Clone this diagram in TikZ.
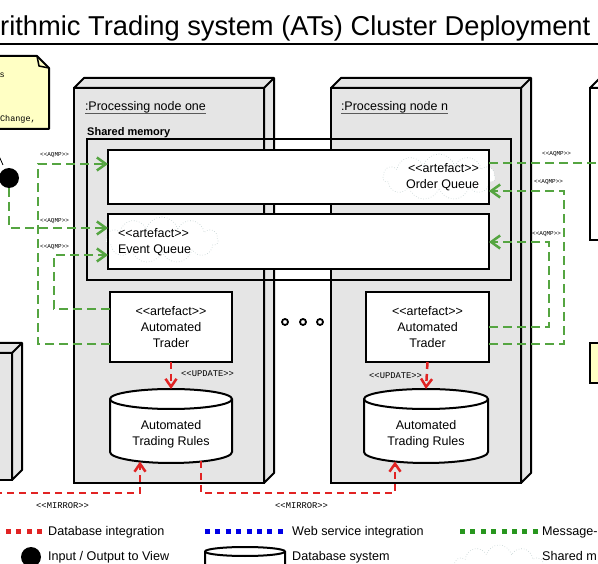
\documentclass[tikz,border=0pt]{standalone}
\usepackage{fontspec}
\setmainfont{Liberation Sans}[Ligatures=TeXOff]
\newfontfamily\monofnt{Liberation Mono}[Ligatures=TeXOff]
\usetikzlibrary{arrows.meta,calc,shapes.symbols}

\definecolor{nodegray}{RGB}{229,229,229}
\definecolor{aqc}{RGB}{85,165,65}
\definecolor{dbred}{RGB}{225,35,35}
\definecolor{legblue}{RGB}{0,0,230}
\definecolor{leggreen}{RGB}{40,150,30}
\definecolor{notey}{RGB}{255,255,196}
\definecolor{cloudc}{RGB}{190,206,206}
\definecolor{ulc}{RGB}{90,90,90}

\tikzset{
 box/.style={draw=black, line width=2pt, fill=white, inner sep=0pt, outer sep=0pt},
 nodeface/.style={draw=black, line width=2pt, fill=nodegray, inner sep=0pt, outer sep=0pt, anchor=north west},
 extr/.style={draw=black, line width=2pt, fill=nodegray, line join=round},
 txt/.style={font=\fontsize{12.5}{16}\selectfont, inner sep=0pt, outer sep=0pt, align=center},
 aqmp/.style={aqc, line width=2.5pt, dash pattern=on 9pt off 5pt, -{Straight Barb[length=9pt,width=13pt]}},
 aqmpline/.style={aqc, line width=2.5pt, dash pattern=on 9pt off 5pt},
 dblink/.style={dbred, line width=2.5pt, dash pattern=on 7pt off 5pt, -{Straight Barb[length=8pt,width=11pt]}},
 tinylbl/.style={font=\monofnt\fontsize{6}{6}\selectfont, inner sep=0pt, anchor=base west},
 smalllbl/.style={font=\monofnt\fontsize{8.8}{9}\selectfont, inner sep=0pt, anchor=base west},
 cloudbg/.style={cloud, cloud puffs=11, cloud ignores aspect, draw=cloudc, dotted, line width=0.6pt, fill=white, inner sep=0pt, outer sep=0pt},
 legtxt/.style={font=\fontsize{12.6}{14}\selectfont, inner sep=0pt, anchor=base west},
 legline/.style={line width=5pt, dash pattern=on 5pt off 5.4pt},
 ring/.style={circle, draw=black, line width=1.8pt, fill=white, minimum size=6pt, inner sep=0pt},
 blackdot/.style={circle, fill=black, minimum size=20pt, inner sep=0pt, outer sep=0pt},
 notetxt/.style={font=\monofnt\fontsize{8.5}{9}\selectfont, inner sep=0pt, anchor=base east},
}

\begin{document}
\begin{tikzpicture}[x=1pt,y=1pt]
\useasboundingbox (0,0) rectangle (598,-564);
\clip (0,0) rectangle (598,-564);

% title
\node[anchor=base west, font=\fontsize{27.3}{30}\selectfont, inner sep=0pt] (title) at (0,-36) {rithmic Trading system (ATs) Cluster Deployment};
\draw[line width=2pt] (-2,-44) -- (600,-44);

% top-left note
\filldraw[draw=black, line width=2pt, fill=notey, line join=round] (-10,-56) -- (37,-56) -- (49,-68) -- (49,-129) -- (-10,-129) -- cycle;
\draw[line width=1.5pt, line join=round] (37,-56) -- (39,-66) -- (49,-68);
\node[notetxt] (ns) at (5,-78) {s};
\node[notetxt] (nc) at (36,-122) {Change,};

% left bottom 3D box
\node[nodeface, minimum width=40, minimum height=127] (lbox) at (-28,-353) {};
\filldraw[extr] (lbox.north west) -- ++(10,10) -- ($(lbox.north east)+(10,10)$) -- ($(lbox.south east)+(10,10)$) -- (lbox.south east) -- (lbox.north east) -- cycle;
\draw[line width=2pt] (lbox.north east) -- ++(10,10);

% right top box
\node[nodeface, fill=white, minimum width=60, minimum height=152] (rbox) at (590,-88) {};
\filldraw[extr, fill=white] (rbox.north west) -- ++(10,10) -- ($(rbox.north east)+(10,10)$) -- (rbox.north east) -- cycle;

% right note
\node[draw=black, line width=2pt, fill=notey, minimum width=40, minimum height=40, anchor=north west, inner sep=0pt, outer sep=0pt] (rnote) at (590,-343) {};

% processing node one
\node[nodeface, minimum width=190, minimum height=395] (pn1) at (74,-88) {};
\filldraw[extr] (pn1.north west) -- ++(10,10) -- ($(pn1.north east)+(10,10)$) -- ($(pn1.south east)+(10,10)$) -- (pn1.south east) -- (pn1.north east) -- cycle;
\draw[line width=2pt] (pn1.north east) -- ++(10,10);

% processing node n
\node[nodeface, minimum width=190, minimum height=395] (pnn) at (331,-88) {};
\filldraw[extr] (pnn.north west) -- ++(10,10) -- ($(pnn.north east)+(10,10)$) -- ($(pnn.south east)+(10,10)$) -- (pnn.south east) -- (pnn.north east) -- cycle;
\draw[line width=2pt] (pnn.north east) -- ++(10,10);

% node labels
\node[txt, anchor=base west] (pl1) at (85,-111) {:Processing node one};
\draw[ulc, line width=1.3pt] ($(pl1.base west)+(0,-2.5)$) -- ($(pl1.base east)+(0,-2.5)$);
\node[txt, anchor=base west] (pln) at (341,-111) {:Processing node n};
\draw[ulc, line width=1.3pt] ($(pln.base west)+(0,-2.5)$) -- ($(pln.base east)+(0,-2.5)$);

% shared memory
\node[anchor=base west, font=\bfseries\fontsize{11}{12}\selectfont, inner sep=0pt] (sml) at (87,-136) {Shared memory};
\node[draw=black, line width=2pt, minimum width=424, minimum height=141, anchor=north west, inner sep=0pt, outer sep=0pt] (shm) at (87,-139) {};

% queues
\node[box, minimum width=381, minimum height=54, anchor=north west] (oq) at (108,-150) {};
\node[box, minimum width=381, minimum height=55, anchor=north west] (eq) at (108,-214) {};
\node[cloudbg, minimum width=112, minimum height=46] (oqc) at (439,-177) {};
\node[txt, align=right, anchor=east] (oqt) at (479,-177) {<<artefact>>\\Order Queue};
\node[cloudbg, minimum width=112, minimum height=46] (eqc) at (162,-240) {};
\node[txt, align=left, anchor=west] (eqt) at (118,-242.5) {<<artefact>>\\Event Queue};
\draw[line width=2pt] (oq.north west) rectangle (oq.south east);
\draw[line width=2pt] (eq.north west) rectangle (eq.south east);

% traders
\node[box, txt, minimum width=122, minimum height=70] (t1) at (171,-327) {<<artefact>>\\Automated\\Trader};
\node[box, txt, minimum width=123, minimum height=70] (tn) at (427.5,-327) {<<artefact>>\\Automated\\Trader};

% cylinders
\node[minimum width=122, minimum height=74, inner sep=0pt, outer sep=0pt] (r1) at (171,-426) {};
\filldraw[line width=2pt, fill=white] ($(r1.north west)+(0,-10)$) -- ($(r1.south west)+(0,11)$) arc[start angle=180, end angle=360, x radius=61, y radius=11] -- ($(r1.north east)+(0,-10)$) arc[start angle=0, end angle=180, x radius=61, y radius=10] -- cycle;
\draw[line width=2pt] ($(r1.north west)+(0,-10)$) arc[start angle=180, end angle=360, x radius=61, y radius=10];
\node[txt] (r1t) at (171,-434) {Automated\\Trading Rules};

\node[minimum width=124, minimum height=74, inner sep=0pt, outer sep=0pt] (rn) at (426,-426) {};
\filldraw[line width=2pt, fill=white] ($(rn.north west)+(0,-10)$) -- ($(rn.south west)+(0,11)$) arc[start angle=180, end angle=360, x radius=62, y radius=11] -- ($(rn.north east)+(0,-10)$) arc[start angle=0, end angle=180, x radius=62, y radius=10] -- cycle;
\draw[line width=2pt] ($(rn.north west)+(0,-10)$) arc[start angle=180, end angle=360, x radius=62, y radius=10];
\node[txt] (rnt) at (426,-434) {Automated\\Trading Rules};

% black dot (input/output)
\node[blackdot] (dot) at (9,-178) {};
\draw[line width=0.8pt] (-1,-156) -- (3,-165);

% AQMP connectors
\draw[aqmp] ($(t1.west)+(0,-17)$) -- ++(-72,0) |- ($(oq.west)+(0,13)$);
\draw[aqmp] ($(t1.west)+(0,18)$) -- ++(-56,0) |- ($(eq.west)+(0,-13.5)$);
\draw[aqmp] (dot.south) |- ($(eq.west)+(0,13.5)$);
\coordinate (rEdge) at (605,-163);
\draw[aqmpline] ($(oq.east)+(0,14)$) -- (rEdge);
\draw[aqmp] ($(tn.east)+(0,-17)$) -- ++(75,0) |- ($(oq.east)+(0,-14)$);
\draw[aqmp] (tn.east) -- ++(60,0) |- ($(eq.east)+(0,-0.5)$);

\node[tinylbl] (a1) at (40,-157) {<<AQMP>>};
\node[tinylbl] (a2) at (40,-223) {<<AQMP>>};
\node[tinylbl] (a3) at (40,-249) {<<AQMP>>};
\node[tinylbl] (a4) at (542,-156) {<<AQMP>>};
\node[tinylbl] (a5) at (534,-184) {<<AQMP>>};
\node[tinylbl] (a6) at (532,-236) {<<AQMP>>};

% database links
\draw[dblink] (t1.south) -- (r1.north);
\node[smalllbl] (u1) at (181,-377) {<<UPDATE>>};
\draw[dblink] (tn.south) -- (rn.north);
\node[smalllbl] (un) at (369,-379) {<<UPDATE>>};

\coordinate (mirL) at (-5,-493);
\draw[dblink] (mirL) -| ($(r1.south)+(-31,1.5)$);
\node[smalllbl] (m1) at (36,-508) {<<MIRROR>>};
\draw[dblink] ($(r1.south)+(30,2)$) -- ++(0,-32) -| ($(rn.south)+(-31,1.5)$);
\node[smalllbl] (m2) at (275,-508) {<<MIRROR>>};

% ellipsis rings
\node[ring] (e1) at (285,-322) {};
\node[ring] (e2) at (303,-322) {};
\node[ring] (e3) at (320,-322) {};

% legend
\draw[legline, dbred] (42,-531) -- (-10,-531);
\node[legtxt] (lg1) at (48,-535.5) {Database integration};
\draw[legline, legblue] (205,-531) -- (288,-531);
\node[legtxt] (lg2) at (292,-535.5) {Web service integration};
\draw[legline, leggreen] (460,-531) -- (543,-531);
\node[legtxt] (lg3) at (542,-535.5) {Message-};

\node[blackdot] (ldot) at (31,-557) {};
\node[legtxt] (lg4) at (48,-560.5) {Input / Output to View};

\filldraw[line width=2pt, fill=white] (205,-551.5) -- (205,-580) -- (285,-580) -- (285,-551.5) arc[start angle=0, end angle=180, x radius=40, y radius=4.5] -- cycle;
\draw[line width=2pt] (205,-551.5) arc[start angle=180, end angle=360, x radius=40, y radius=4.5];
\node[legtxt] (lg5) at (292,-560.5) {Database system};

\node[cloudbg, minimum width=92, minimum height=48] (lcloud) at (499,-569) {};
\node[legtxt] (lg6) at (542,-560.5) {Shared m};
\end{tikzpicture}
\end{document}
